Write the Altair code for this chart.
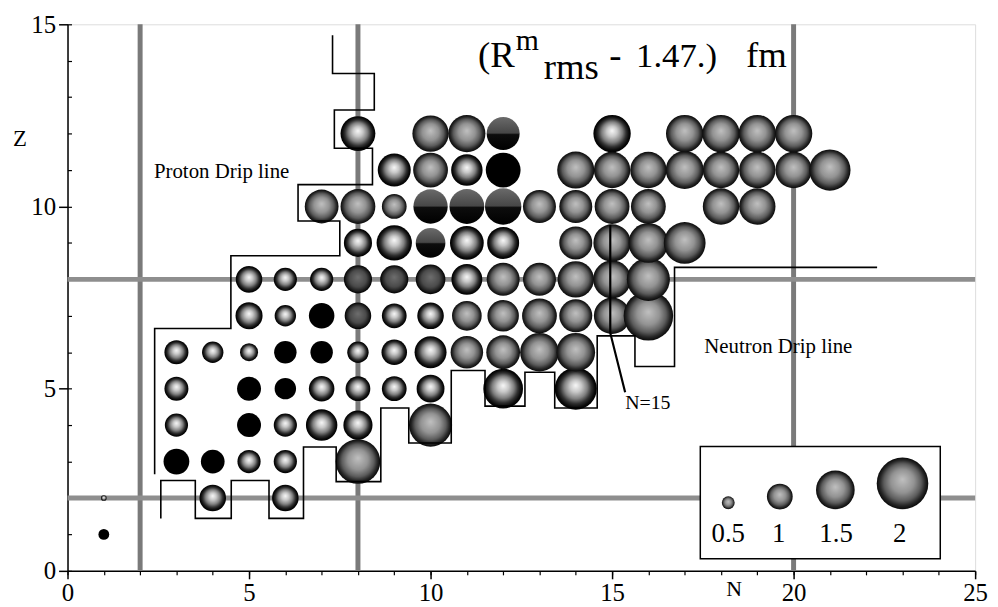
import altair as alt
import pandas as pd

FONT = "Liberation Serif"

# ---------------- nuclides, row by row (Z = proton number) ----------------
# N = neutron numbers, R = (R^m_rms - 1.47) fm, S = shading class per nuclide
# L light sphere, M grey sphere, D dark grey sphere, H half-dark sphere, B black disc
N_Z1 = [1]
R_Z1 = [0.42]
S_Z1 = "B"
N_Z2 = [1, 4, 6]
R_Z2 = [0.22, 1.03, 1.03]
S_Z2 = "LLL"
N_Z3 = [3, 4, 5, 6, 8]
R_Z3 = [1.0, 0.92, 0.9, 0.9, 1.73]
S_Z3 = "BBLLM"
N_Z4 = [3, 5, 6, 7, 8, 10]
R_Z4 = [0.9, 0.93, 0.9, 1.22, 1.13, 1.67]
S_Z4 = "LBLLLM"
N_Z5 = [3, 5, 6, 7, 8, 9, 10, 12, 14]
R_Z5 = [0.93, 0.93, 0.83, 0.99, 0.96, 0.96, 1.08, 1.54, 1.63]
S_Z5 = "LBBLLLLLL"
N_Z6 = [3, 4, 5, 6, 7, 8, 9, 10, 11, 12, 13, 14]
R_Z6 = [0.93, 0.83, 0.7, 0.87, 0.87, 0.83, 0.99, 1.24, 1.26, 1.31, 1.5, 1.5]
S_Z6 = "LLLBBLLLMMMM"
N_Z7 = [5, 6, 7, 8, 9, 10, 11, 12, 13, 14, 15, 16]
R_Z7 = [1.05, 0.83, 0.99, 1.03, 0.96, 1.03, 1.15, 1.22, 1.35, 1.28, 1.41, 1.92]
S_Z7 = "LLBDLLMMMMMM"
N_Z8 = [5, 6, 7, 8, 9, 10, 11, 12, 13, 14, 15, 16]
R_Z8 = [1.03, 0.9, 0.9, 1.09, 1.09, 1.15, 1.2, 1.28, 1.28, 1.41, 1.47, 1.67]
S_Z8 = "LLLDDDLMMMMM"
N_Z9 = [8, 9, 10, 11, 12, 14, 15, 16, 17]
R_Z9 = [1.09, 1.37, 1.15, 1.31, 1.24, 1.28, 1.45, 1.54, 1.62]
S_Z9 = "LLHLLMMMM"
N_Z10 = [7, 8, 9, 10, 11, 12, 13, 14, 15, 16, 18, 19]
R_Z10 = [1.31, 1.35, 0.96, 1.33, 1.35, 1.41, 1.28, 1.28, 1.35, 1.35, 1.41, 1.41]
S_Z10 = "MMMHHHMMMMMM"
N_Z11 = [9, 10, 11, 12, 14, 15, 16, 17, 18, 19, 20, 21]
R_Z11 = [1.28, 1.35, 1.22, 1.35, 1.44, 1.41, 1.41, 1.47, 1.41, 1.41, 1.41, 1.6]
S_Z11 = "LMLBMMMMMMMM"
N_Z12 = [8, 10, 11, 12, 15, 17, 18, 19, 20]
R_Z12 = [1.35, 1.41, 1.44, 1.28, 1.45, 1.45, 1.45, 1.45, 1.45]
S_Z12 = "LMMHLMMMM"

ROWS = [
    (1, N_Z1, R_Z1, S_Z1), (2, N_Z2, R_Z2, S_Z2), (3, N_Z3, R_Z3, S_Z3),
    (4, N_Z4, R_Z4, S_Z4), (5, N_Z5, R_Z5, S_Z5), (6, N_Z6, R_Z6, S_Z6),
    (7, N_Z7, R_Z7, S_Z7), (8, N_Z8, R_Z8, S_Z8), (9, N_Z9, R_Z9, S_Z9),
    (10, N_Z10, R_Z10, S_Z10), (11, N_Z11, R_Z11, S_Z11), (12, N_Z12, R_Z12, S_Z12),
]

# magic numbers
MAGIC_N = [2, 8, 20]
MAGIC_Z = [2, 8]

# drip lines (staircase outlines)
PROTON_N = [7.3, 7.3, 8.45, 8.45, 7.35, 7.35, 8.4, 8.4, 6.35, 6.35, 7.5, 7.5, 4.5, 4.5, 2.4, 2.4]
PROTON_Z = [14.7, 13.65, 13.65, 12.65, 12.65, 11.6, 11.6, 10.6, 10.6, 9.6, 9.6, 8.65, 8.65, 6.65, 6.65, 2.65]
NEUTRON_N = [2.57, 2.57, 3.52, 3.52, 4.51, 4.51, 5.55, 5.55, 6.5, 6.5, 7.4, 7.4, 8.63, 8.63,
             9.4, 9.4, 10.57, 10.57, 11.5, 11.5, 12.6, 12.6, 13.42, 13.42, 14.59, 14.59,
             15.63, 15.63, 16.72, 16.72, 22.3]
NEUTRON_Z = [1.44, 2.48, 2.48, 1.44, 1.44, 2.48, 2.48, 1.44, 1.44, 3.4, 3.4, 2.45, 2.45, 4.47,
             4.47, 3.51, 3.51, 5.5, 5.5, 4.52, 4.52, 5.45, 5.45, 4.47, 4.47, 6.45, 6.45,
             5.61, 5.61, 8.33, 8.33]
N15_N = [14.95, 14.95, 15.36]
N15_Z = [9.5, 6.53, 4.9]

# size key
KEY_R = [0.5, 1, 1.5, 2]
KEY_LABELS = ["0.5", "1", "1.5", "2"]
KEY_N = [18.2, 19.62, 21.15, 23.0]
KEY_Z = [1.87, 2.04, 2.22, 2.40]
KEY_LABEL_N = [18.2, 19.59, 21.17, 22.92]
KEY_LABEL_Z = [0.79, 0.79, 0.79, 0.79]
KEY_BOX = {"n1": [17.43], "n2": [24.04], "z1": [0.33], "z2": [3.41]}

# ---------------- build tables ----------------
recs = []
for z, ns, rs, ss in ROWS:
    assert len(ns) == len(rs) == len(ss)
    for n, r, s in zip(ns, rs, ss):
        recs.append({"N": n, "Z": z, "R": r, "S": s})
nuc = pd.DataFrame(recs)

xs = alt.Scale(domain=[0, 25], nice=False, zero=False)
ys = alt.Scale(domain=[0, 15], nice=False, zero=False)
# circle diameter (px) = 26 * value  -> Vega symbol size = diameter^2
ss_ = alt.Scale(type="pow", exponent=2, domain=[0, 2], range=[0, 2704])

x_main = alt.Axis(values=[0, 5, 10, 15, 20, 25], tickSize=8, tickWidth=1.5, tickColor="black",
                  labelFont=FONT, labelFontSize=25, labelColor="black", labelPadding=2,
                  labelFlush=False, labelOverlap=False, domainColor="black", domainWidth=1.5,
                  grid=False, title=None, orient="bottom")
y_main = alt.Axis(values=[0, 5, 10, 15], tickSize=9, tickWidth=1.5, tickColor="black",
                  labelFont=FONT, labelFontSize=25, labelColor="black", labelPadding=3,
                  labelFlush=False, labelOverlap=False, domainColor="black", domainWidth=1.5,
                  grid=False, title=None, orient="left")
x_minor = alt.Axis(values=list(range(26)), tickSize=4, tickWidth=1.2, tickColor="black",
                   labels=False, domain=False, grid=False, title=None, orient="bottom")
y_minor = alt.Axis(values=list(range(16)), tickSize=4, tickWidth=1.2, tickColor="black",
                   labels=False, domain=False, grid=False, title=None, orient="left", offset=-4)


def stops(lst):
    return [alt.GradientStop(offset=o, color=c) for o, c in lst]


def radial(lst):
    return alt.RadialGradient(gradient="radial", stops=stops(lst),
                              x1=0.5, y1=0.42, r1=0, x2=0.5, y2=0.5, r2=0.5)


FILLS = {
    "L": radial([(0, "#f8f8f8"), (0.28, "#c8c8c8"), (0.55, "#808080"), (0.75, "#303030"),
                 (0.9, "#0a0a0a"), (1, "#000000")]),
    "M": radial([(0, "#c0c0c0"), (0.45, "#939393"), (0.72, "#5c5c5c"), (0.88, "#262626"),
                 (1, "#0a0a0a")]),
    "D": radial([(0, "#6e6e6e"), (0.6, "#4a4a4a"), (0.86, "#1c1c1c"), (1, "#000000")]),
    "H": alt.LinearGradient(gradient="linear", stops=stops([(0, "#6a6a6a"), (0.48, "#474747"),
                                                            (0.53, "#0d0d0d"), (1, "#000000")]),
                            x1=0, y1=0, x2=0, y2=1),
    "B": "#000000",
}

layers = []

# magic-number lines
layers.append(alt.Chart(pd.DataFrame({"N": MAGIC_N})).mark_rule(color="#7a7a7a", strokeWidth=5)
              .encode(x=alt.X("N:Q", scale=xs, axis=x_minor)))
layers.append(alt.Chart(pd.DataFrame({"Z": MAGIC_Z})).mark_rule(color="#8e8e8e", strokeWidth=5)
              .encode(y=alt.Y("Z:Q", scale=ys, axis=y_minor)))

# nuclide spheres
first = True
for code in ["L", "M", "D", "H", "B"]:
    sub = nuc[nuc["S"] == code]
    layers.append(alt.Chart(sub).mark_circle(fill=FILLS[code], opacity=1, strokeWidth=0)
                  .encode(x=alt.X("N:Q", scale=xs, axis=x_main if first else None),
                          y=alt.Y("Z:Q", scale=ys, axis=y_main if first else None),
                          size=alt.Size("R:Q", scale=ss_, legend=None)))
    first = False


def line_layer(ns, zs, width):
    df = pd.DataFrame({"i": list(range(len(ns))), "N": ns, "Z": zs})
    return (alt.Chart(df).mark_line(color="black", strokeWidth=width)
            .encode(x=alt.X("N:Q", scale=xs, axis=None), y=alt.Y("Z:Q", scale=ys, axis=None),
                    order="i:Q"))


layers.append(line_layer(PROTON_N, PROTON_Z, 1.6))
layers.append(line_layer(NEUTRON_N, NEUTRON_Z, 1.6))
layers.append(line_layer(N15_N, N15_Z, 2.2))

# key box + spheres + labels
layers.append(alt.Chart(pd.DataFrame(KEY_BOX)).mark_rect(fill="white", stroke="black", strokeWidth=1.5)
              .encode(x=alt.X("n1:Q", scale=xs, axis=None), x2="n2:Q",
                      y=alt.Y("z1:Q", scale=ys, axis=None), y2="z2:Q"))
layers.append(alt.Chart(pd.DataFrame({"N": KEY_N, "Z": KEY_Z, "R": KEY_R}))
              .mark_circle(fill=FILLS["M"], opacity=1, strokeWidth=0)
              .encode(x=alt.X("N:Q", scale=xs, axis=None), y=alt.Y("Z:Q", scale=ys, axis=None),
                      size=alt.Size("R:Q", scale=ss_, legend=None)))


def text_layer(texts, ns, zs, size, align="left", baseline="alphabetic", style="normal"):
    df = pd.DataFrame({"t": texts, "N": ns, "Z": zs})
    return (alt.Chart(df).mark_text(font=FONT, fontSize=size, align=align, baseline=baseline,
                                    color="black", fontStyle=style)
            .encode(x=alt.X("N:Q", scale=xs, axis=None), y=alt.Y("Z:Q", scale=ys, axis=None),
                    text="t:N"))


layers.append(text_layer(KEY_LABELS, KEY_LABEL_N, KEY_LABEL_Z, 27, align="center"))

# title  (R^m_rms - 1.47.)  fm
layers.append(text_layer(["(R", "-", "fm"], [11.31, 14.92, 18.69], [13.83, 13.83, 13.83], 37))
layers.append(text_layer(["1.47.)"], [15.66], [13.83], 35))
layers.append(text_layer(["m"], [12.35], [14.29], 30))
layers.append(text_layer(["rms"], [13.12], [13.50], 37))

# annotations
layers.append(text_layer(["Proton Drip line", "Neutron Drip line"], [2.38, 17.54], [10.78, 5.99], 21))
layers.append(text_layer(["N=15"], [15.36], [4.44], 20))
layers.append(text_layer(["Z"], [-1.31], [11.65], 23, align="center"))
layers.append(text_layer(["N"], [18.36], [-0.22], 22, align="center", baseline="top"))

chart = (alt.layer(*layers)
         .resolve_axis(x="independent", y="independent")
         .properties(width=915, height=551,
                     padding={"left": 60, "top": 14, "right": 15, "bottom": 34},
                     autosize=alt.AutoSizeParams(type="none"))
         .configure_view(stroke="black", strokeWidth=1.2)
         .configure(background="white"))

chart.save("out.html", embed_options={"renderer": "svg", "actions": False})
